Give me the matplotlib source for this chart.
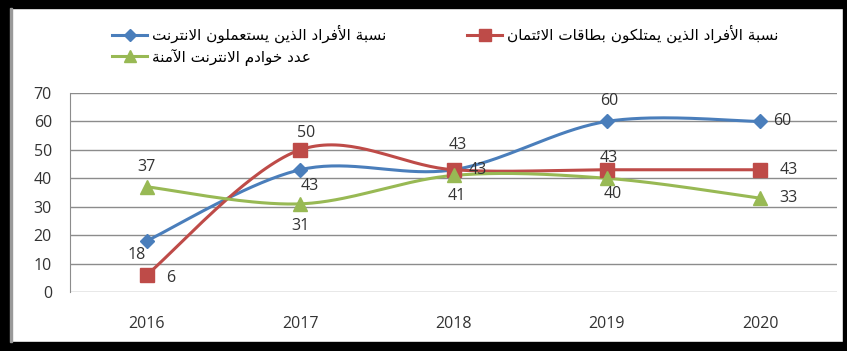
import numpy as np
import matplotlib
matplotlib.use("Agg")
import matplotlib.pyplot as plt
from matplotlib.lines import Line2D
from matplotlib.patches import Rectangle

# ---- data ----
years = ["2016", "2017", "2018", "2019", "2020"]
internet_users = [18, 43, 43, 60, 60]
credit_cards = [6, 50, 43, 43, 43]
secure_servers = [37, 31, 41, 40, 33]

label_users = "نسبة الأفراد الذين يستعملون الانترنت"
label_cards = "نسبة الأفراد الذين يمتلكون بطاقات الائتمان"
label_servers = "عدد خوادم الانترنت الآمنة"

# ---- minimal arabic shaping (matplotlib has no bidi / joining) ----
FORMS = {
    'ا': (0xFE8D, 0xFE8E), 'أ': (0xFE83, 0xFE84), 'آ': (0xFE81, 0xFE82),
    'د': (0xFEA9, 0xFEAA), 'ذ': (0xFEAB, 0xFEAC), 'ر': (0xFEAD, 0xFEAE),
    'و': (0xFEED, 0xFEEE), 'ة': (0xFE93, 0xFE94),
    'ب': (0xFE8F, 0xFE90, 0xFE91, 0xFE92), 'ت': (0xFE95, 0xFE96, 0xFE97, 0xFE98),
    'خ': (0xFEA5, 0xFEA6, 0xFEA7, 0xFEA8), 'س': (0xFEB1, 0xFEB2, 0xFEB3, 0xFEB4),
    'ط': (0xFEC1, 0xFEC2, 0xFEC3, 0xFEC4), 'ع': (0xFEC9, 0xFECA, 0xFECB, 0xFECC),
    'ف': (0xFED1, 0xFED2, 0xFED3, 0xFED4), 'ق': (0xFED5, 0xFED6, 0xFED7, 0xFED8),
    'ك': (0xFED9, 0xFEDA, 0xFEDB, 0xFEDC), 'ل': (0xFEDD, 0xFEDE, 0xFEDF, 0xFEE0),
    'م': (0xFEE1, 0xFEE2, 0xFEE3, 0xFEE4), 'ن': (0xFEE5, 0xFEE6, 0xFEE7, 0xFEE8),
    'ي': (0xFEF1, 0xFEF2, 0xFEF3, 0xFEF4), 'ئ': (0xFE89, 0xFE8A, 0xFE8B, 0xFE8C),
}
LAMALEF = {'ا': (0xFEFB, 0xFEFC), 'أ': (0xFEF7, 0xFEF8), 'آ': (0xFEF5, 0xFEF6)}


def shape(text):
    out = []
    i = 0
    while i < len(text):
        c = text[i]
        if c not in FORMS:
            out.append(c)
            i += 1
            continue
        prev = text[i - 1] if i > 0 else ''
        joins_prev = prev in FORMS and len(FORMS[prev]) == 4
        if c == 'ل' and i + 1 < len(text) and text[i + 1] in LAMALEF:
            iso, fin = LAMALEF[text[i + 1]]
            out.append(chr(fin if joins_prev else iso))
            i += 2
            continue
        f = FORMS[c]
        nxt = text[i + 1] if i + 1 < len(text) else ''
        joins_next = len(f) == 4 and nxt in FORMS
        if joins_prev and joins_next:
            g = f[3]
        elif joins_prev:
            g = f[1]
        elif joins_next:
            g = f[2]
        else:
            g = f[0]
        out.append(chr(g))
        i += 1
    return ''.join(out[::-1])


def smooth(y, n=40):
    # excel-like smoothed line (catmull-rom bezier)
    x = np.arange(len(y), dtype=float)
    y = np.asarray(y, dtype=float)
    xs, ys = [], []
    for k in range(len(y) - 1):
        p0 = np.array([x[max(k - 1, 0)], y[max(k - 1, 0)]])
        p1 = np.array([x[k], y[k]])
        p2 = np.array([x[k + 1], y[k + 1]])
        p3 = np.array([x[min(k + 2, len(y) - 1)], y[min(k + 2, len(y) - 1)]])
        c1 = p1 + (p2 - p0) / 6
        c2 = p2 - (p3 - p1) / 6
        t = np.linspace(0, 1, n)[:, None]
        b = (1 - t) ** 3 * p1 + 3 * (1 - t) ** 2 * t * c1 + 3 * (1 - t) * t ** 2 * c2 + t ** 3 * p2
        xs.extend(b[:, 0])
        ys.extend(b[:, 1])
    return np.array(xs), np.array(ys)


plt.rcParams['font.family'] = ['Open Sans', 'DejaVu Sans']

blue = '#4A7EBB'
red = '#BE4B48'
green = '#98B954'
txt = '#333333'
fs = 11.5

fig = plt.figure(figsize=(8.47, 3.51), dpi=100)
ax = fig.add_axes([70 / 847, 59 / 351, 767 / 847, 199 / 351])

series = [
    (internet_users, blue, 'D', 7, [(-10, -14), (10, -16), (24, 0), (2, 20), (22, 0)]),
    (credit_cards, red, 's', 10, [(24, -3), (6, 17), (4, 25), (2, 12), (28, 0)]),
    (secure_servers, green, '^', 10, [(0, 20), (0, -22), (3, -21), (6, -16), (28, 0)]),
]

x = np.arange(len(years))
for vals, col, mk, ms, offs in series:
    sx, sy = smooth(vals)
    ax.plot(sx, sy, color=col, lw=2.2, zorder=3)
    ax.plot(x, vals, ls='none', marker=mk, ms=ms, color=col, zorder=4)
    for xi, v, (dx, dy) in zip(x, vals, offs):
        ax.annotate(str(v), (xi, v), xytext=(dx, dy), textcoords='offset pixels',
                    ha='center', va='center', fontsize=fs, color=txt, zorder=5)

ax.set_xlim(-0.5, 4.5)
ax.set_ylim(0, 70)
ax.set_yticks(range(0, 71, 10))
ax.set_xticks(x)
ax.set_xticklabels(years)
ax.yaxis.grid(True, color='#8C8C8C', lw=1)
ax.set_axisbelow(True)
for s in ['top', 'right', 'bottom']:
    ax.spines[s].set_visible(False)
ax.spines['left'].set_color('#8C8C8C')
ax.tick_params(axis='x', length=0, pad=17, labelsize=fs, labelcolor=txt)
ax.tick_params(axis='y', length=0, pad=13, labelsize=fs, labelcolor=txt)

h_users = Line2D([], [], color=blue, lw=2.2, marker='D', ms=6)
h_cards = Line2D([], [], color=red, lw=2.2, marker='s', ms=8)
h_servers = Line2D([], [], color=green, lw=2.2, marker='^', ms=8)

leg_kw = dict(frameon=False, handlelength=2.3, handletextpad=0.35,
              labelspacing=0.35, borderpad=0, borderaxespad=0,
              prop={'family': 'DejaVu Sans', 'size': 11})
fig.legend([h_users, h_servers], [shape(label_users), shape(label_servers)],
           loc='upper left', bbox_to_anchor=(112 / 847, 1 - 25 / 351), **leg_kw)
fig.legend([h_cards], [shape(label_cards)],
           loc='upper left', bbox_to_anchor=(467 / 847, 1 - 25 / 351), **leg_kw)

# black frame around the chart
W, H = 847, 351
for (x0, y0, w, h) in [(0, 0, 10, H), (0, 0, W, 9), (0, H - 8, W, 8), (W - 4, 0, 4, H)]:
    fig.patches.append(Rectangle((x0 / W, y0 / H), w / W, h / H, transform=fig.transFigure,
                                 color='black', zorder=10))
fig.patches.append(Rectangle((10 / W, 9 / H), 2 / W, (H - 17) / H, transform=fig.transFigure,
                             color='#9a9a9a', zorder=10))

fig.savefig('out.png', dpi=100)
